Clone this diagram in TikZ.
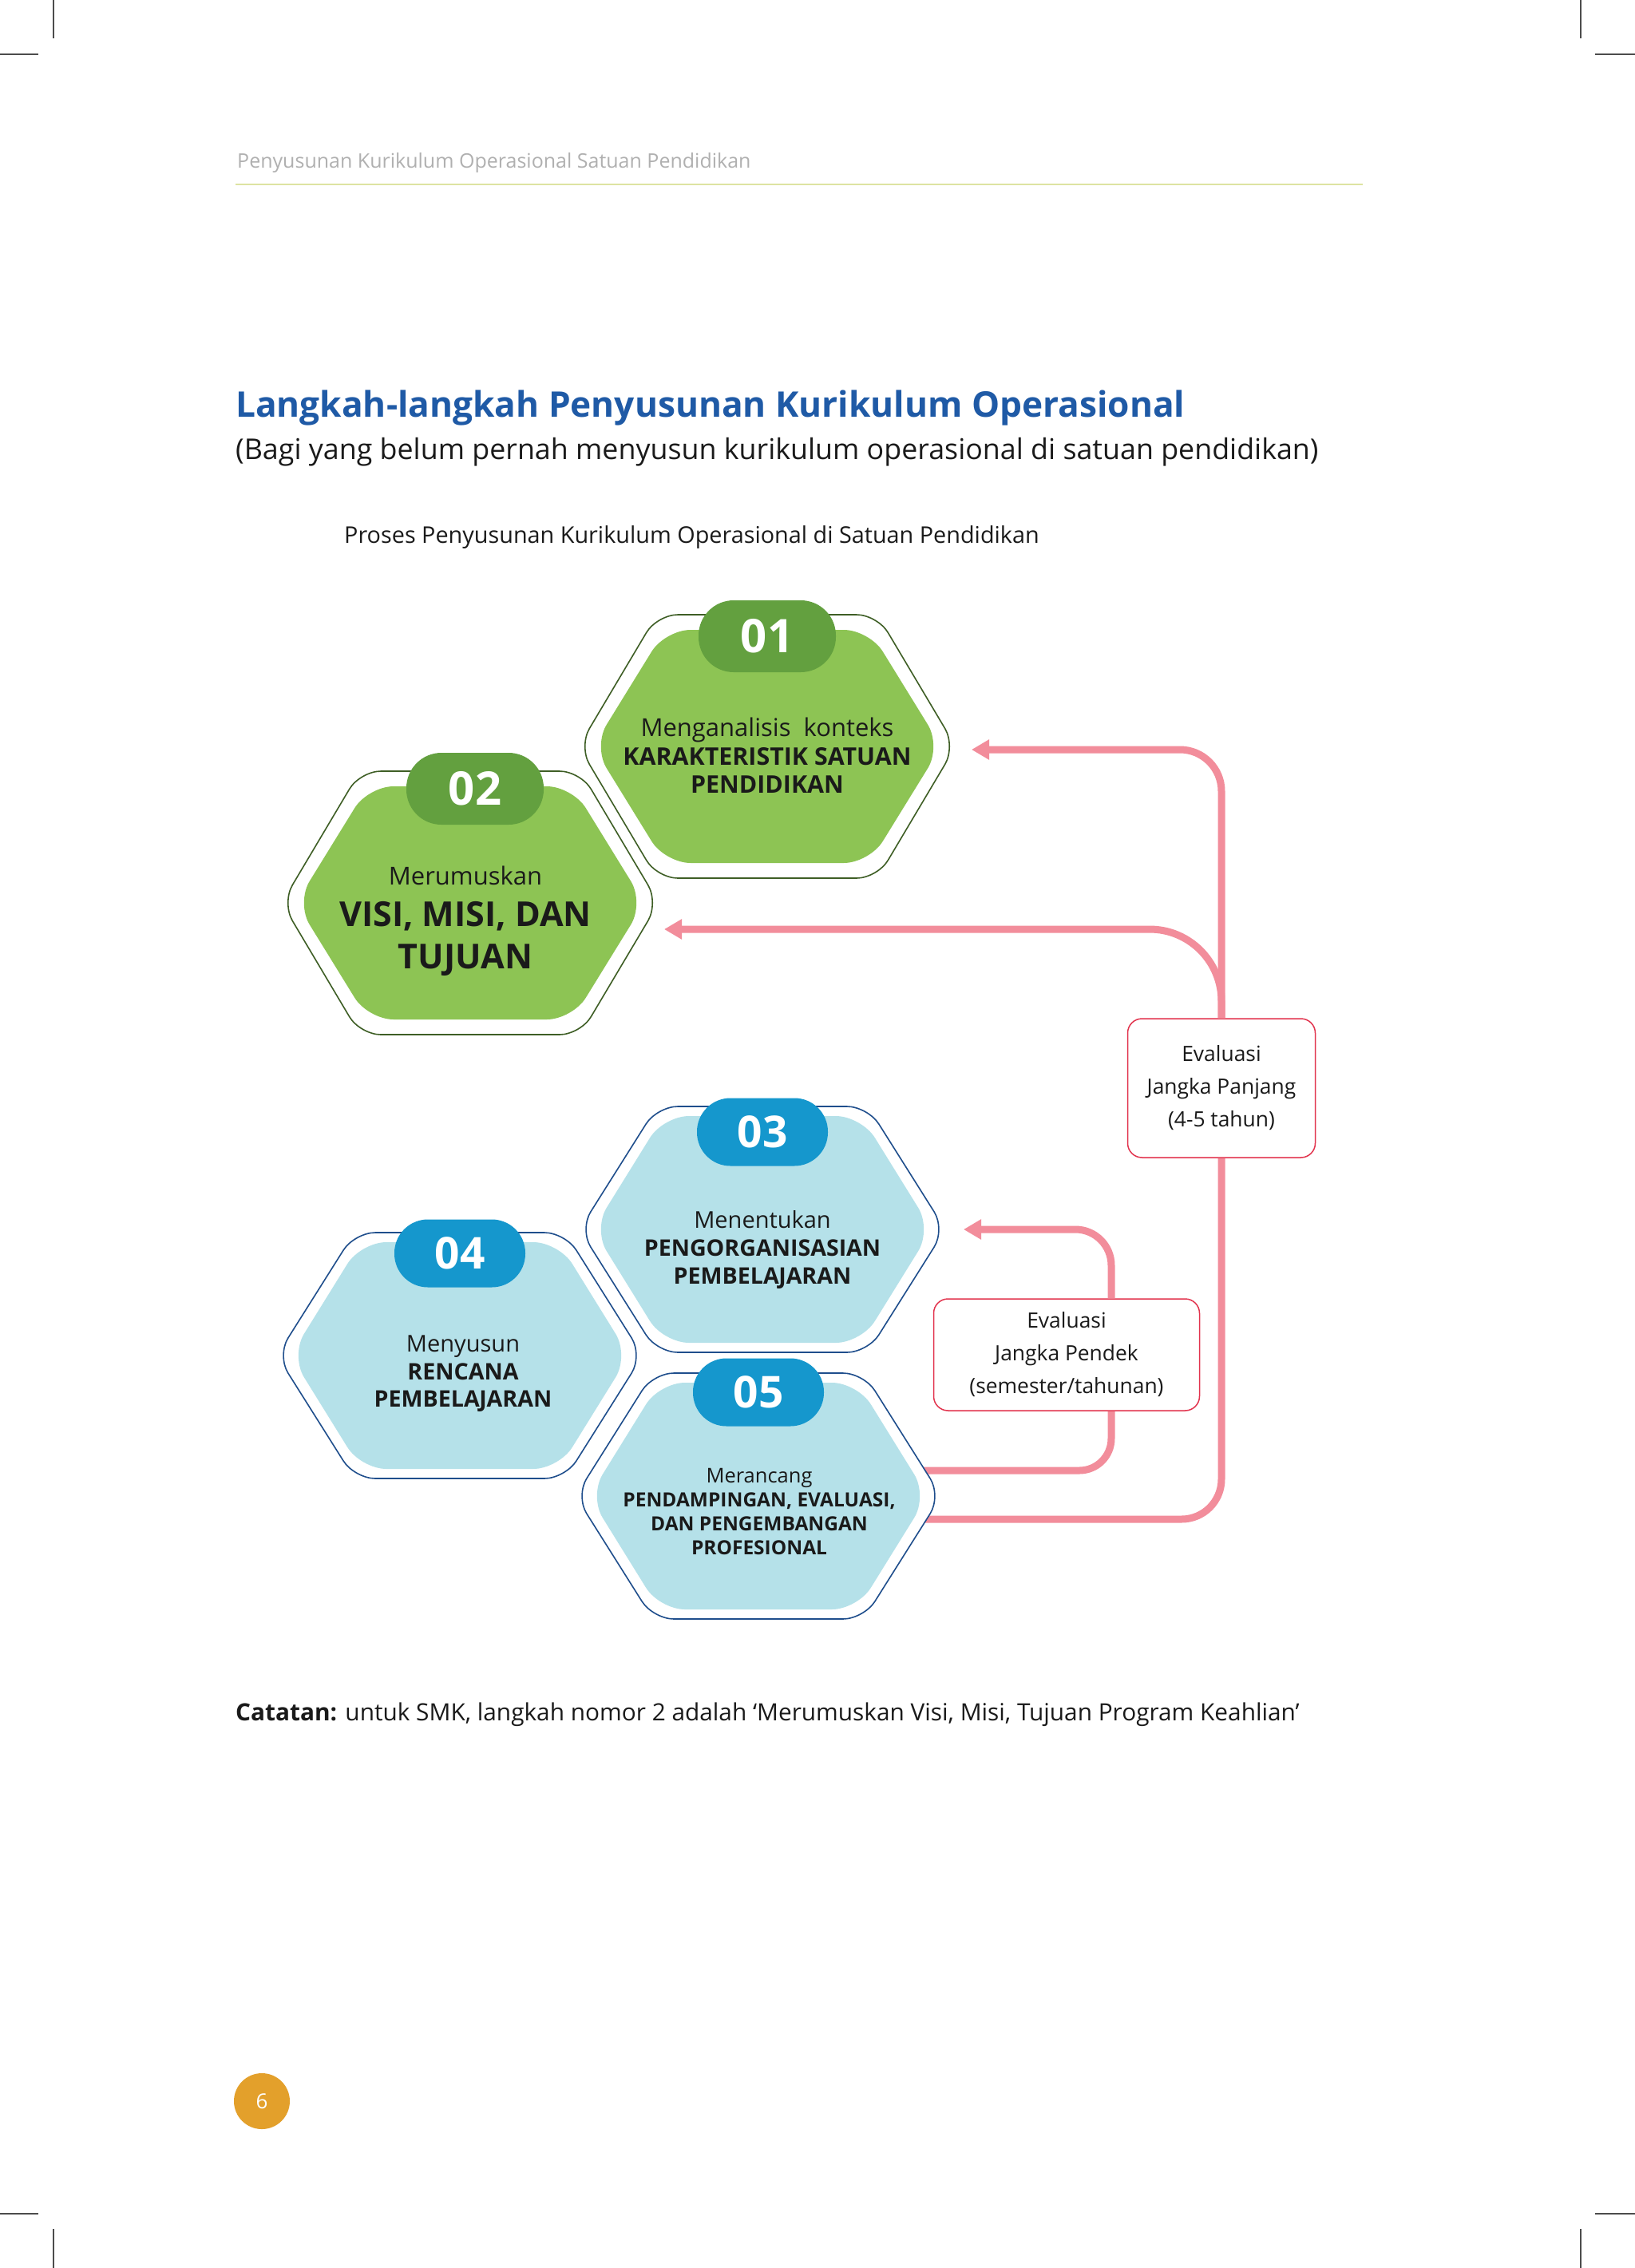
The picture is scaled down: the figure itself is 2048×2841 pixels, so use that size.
\documentclass[tikz,border=0pt]{standalone}
\usepackage{fontspec}
\setmainfont{Open Sans}
\usetikzlibrary{arrows.meta}
\definecolor{gfill}{HTML}{8DC454}
\definecolor{gbadgecol}{HTML}{63A03F}
\definecolor{gline}{HTML}{3E5E25}
\definecolor{bfill}{HTML}{B5E1E9}
\definecolor{bbadgecol}{HTML}{1597CD}
\definecolor{bline}{HTML}{1F4E8C}
\definecolor{pinkln}{HTML}{F28D9B}
\definecolor{boxred}{HTML}{E2344E}
\definecolor{titleblue}{HTML}{1F5AA6}
\definecolor{hdrgray}{HTML}{B0B0B0}
\definecolor{hdrline}{HTML}{DDE3A2}
\definecolor{pgorange}{HTML}{E3A02B}
\definecolor{txt}{HTML}{1A1A1A}

\newcommand\fsz[2]{\fontsize{#1}{#2}\selectfont}
\newcommand\hexsh[6]{\path[#6] (#1-#3,#2) -- (#1-#4,#2-#5) -- (#1+#4,#2-#5) -- (#1+#3,#2) -- (#1+#4,#2+#5) -- (#1-#4,#2+#5) -- cycle;}
\newcommand\greenhex[2]{\hexsh{#1}{#2}{236}{138}{165}{gout}\hexsh{#1}{#2}{218}{128}{146}{gin}}
\newcommand\bluehex[2]{\hexsh{#1}{#2}{229}{132}{154}{bout}\hexsh{#1}{#2}{212}{124}{142}{bin}}

\tikzset{
 gout/.style={draw=gline,line width=1.6pt,fill=white,rounded corners=26pt},
 gin/.style={fill=gfill,rounded corners=32pt},
 bout/.style={draw=bline,line width=1.6pt,fill=white,rounded corners=26pt},
 bin/.style={fill=bfill,rounded corners=32pt},
 gbdg/.style={rounded corners=44pt, minimum width=172pt, minimum height=90pt, inner sep=0pt, text=white, font=\fsz{58}{58}\bfseries, fill=gbadgecol},
 bbdg/.style={rounded corners=42pt, minimum width=164pt, minimum height=85pt, inner sep=0pt, text=white, font=\fsz{55}{55}\bfseries, fill=bbadgecol},
 ln/.style={anchor=base, inner sep=0pt, text=txt},
 evalbox/.style={draw=boxred, line width=1.5pt, fill=white, rounded corners=18pt, align=center, font=\fsz{26.4}{41}, text=txt, inner sep=0pt},
 conn/.style={draw=pinkln, line width=9pt},
 tipped/.style={-{Triangle[length=22pt,width=24pt]}},
 crop/.style={draw=black!70, line width=2pt},
}

\begin{document}
\begin{tikzpicture}[x=1pt,y=-1pt]
\useasboundingbox (0,0) rectangle (2048,2841);
\fill[white] (0,0) rectangle (2048,2841);

% crop marks
\draw[crop] (67,0) -- (67,48);
\draw[crop] (0,68) -- (48,68);
\draw[crop] (1980,0) -- (1980,48);
\draw[crop] (1998,68) -- (2048,68);
\draw[crop] (0,2773) -- (48,2773);
\draw[crop] (67,2792) -- (67,2841);
\draw[crop] (1998,2773) -- (2048,2773);
\draw[crop] (1980,2792) -- (1980,2841);

% header
\node[ln, anchor=base west, text=hdrgray, font=\fsz{25}{30}] (hdr) at (297,210) {Penyusunan Kurikulum Operasional Satuan Pendidikan};
\draw[hdrline, line width=2.5pt] (295,231) -- (1707,231);

% titles
\node[ln, anchor=base west, text=titleblue, font=\fsz{44.2}{50}\bfseries] (title) at (295,522) {Langkah-langkah Penyusunan Kurikulum Operasional};
\node[ln, anchor=base west, font=\fsz{35.8}{40}] (subtitle) at (295,575) {(Bagi yang belum pernah menyusun kurikulum operasional di satuan pendidikan)};
\node[ln, anchor=base west, font=\fsz{28.8}{30}] (caption) at (431,680) {Proses Penyusunan Kurikulum Operasional di Satuan Pendidikan};

% evaluation boxes
\node[evalbox, minimum width=235pt, minimum height=174pt] (ljp) at (1530,1363) {Evaluasi\\Jangka Panjang\\(4-5 tahun)};
\node[evalbox, minimum width=333pt, minimum height=140pt] (ljd) at (1336,1697) {Evaluasi\\Jangka Pendek\\(semester/tahunan)};

% connector anchor points
\coordinate (t1) at (1217,939);
\coordinate (t2) at (832,1164);
\coordinate (t3) at (1207,1540);
\coordinate (s5a) at (1140,1842);
\coordinate (s5b) at (1140,1903);
\coordinate (sv) at (1392,0);

% connectors
\draw[conn, tipped, rounded corners=52pt] (ljp.north) |- (t1);
\draw[conn, tipped, rounded corners=90pt] (ljp.north) |- (t2);
\draw[conn, rounded corners=50pt] (s5b) -| (ljp.south);
\draw[conn, rounded corners=40pt] (s5a) -| (sv |- ljd.south);
\draw[conn, tipped, rounded corners=45pt] (sv |- ljd.north) |- (t3);

% hexagons
\greenhex{961}{935}
\greenhex{589}{1131}
\bluehex{955}{1540}
\bluehex{576}{1698}
\bluehex{950}{1874}

% badges
\node[gbdg] (b1) at (961,797) {01};
\node[gbdg] (b2) at (595,988) {02};
\node[bbdg] (b3) at (955,1418) {03};
\node[bbdg] (b4) at (576,1570) {04};
\node[bbdg] (b5) at (950,1744) {05};

% hexagon texts
\node[ln, font=\fsz{31}{30}] (h1a) at (961,922) {Menganalisis\ \ konteks};
\node[ln, font=\fsz{30.4}{30}\bfseries] (h1b) at (961,958) {KARAKTERISTIK SATUAN};
\node[ln, font=\fsz{30.4}{30}\bfseries] (h1c) at (961,993) {PENDIDIKAN};

\node[ln, font=\fsz{31}{30}] (h2a) at (583,1108) {Merumuskan};
\node[ln, font=\fsz{43}{44}\bfseries] (h2b) at (583,1160) {VISI, MISI, DAN};
\node[ln, font=\fsz{43}{44}\bfseries] (h2c) at (583,1213) {TUJUAN};

\node[ln, font=\fsz{29}{30}] (h3a) at (955,1538) {Menentukan};
\node[ln, font=\fsz{28.6}{30}\bfseries] (h3b) at (955,1573) {PENGORGANISASIAN};
\node[ln, font=\fsz{28.6}{30}\bfseries] (h3c) at (955,1608) {PEMBELA\kern-0.5pt JARAN};

\node[ln, font=\fsz{29}{30}] (h4a) at (580,1693) {Menyusun};
\node[ln, font=\fsz{28.6}{30}\bfseries] (h4b) at (580,1728) {RENCANA};
\node[ln, font=\fsz{28.6}{30}\bfseries] (h4c) at (580,1762) {PEMBELA\kern-0.5pt JARAN};

\node[ln, font=\fsz{25.5}{26}] (h5a) at (951,1857) {Merancang};
\node[ln, font=\fsz{24.5}{26}\bfseries] (h5b) at (951,1887) {PENDAMPINGAN, EVALUASI,};
\node[ln, font=\fsz{24.5}{26}\bfseries] (h5c) at (951,1917) {DAN PENGEMBANGAN};
\node[ln, font=\fsz{24.5}{26}\bfseries] (h5d) at (951,1947) {PROFESIONAL};

% note
\node[ln, anchor=base west, font=\fsz{29.8}{32}] (note) at (295,2155) {\textbf{Catatan:} untuk SMK, langkah nomor 2 adalah `Merumuskan Visi, Misi, Tujuan Program Keahlian'};

% page number
\node[circle, fill=pgorange, minimum size=70pt, inner sep=0pt, text=white, font=\fsz{26}{26}] (pg) at (328,2632) {6};
\end{tikzpicture}
\end{document}
